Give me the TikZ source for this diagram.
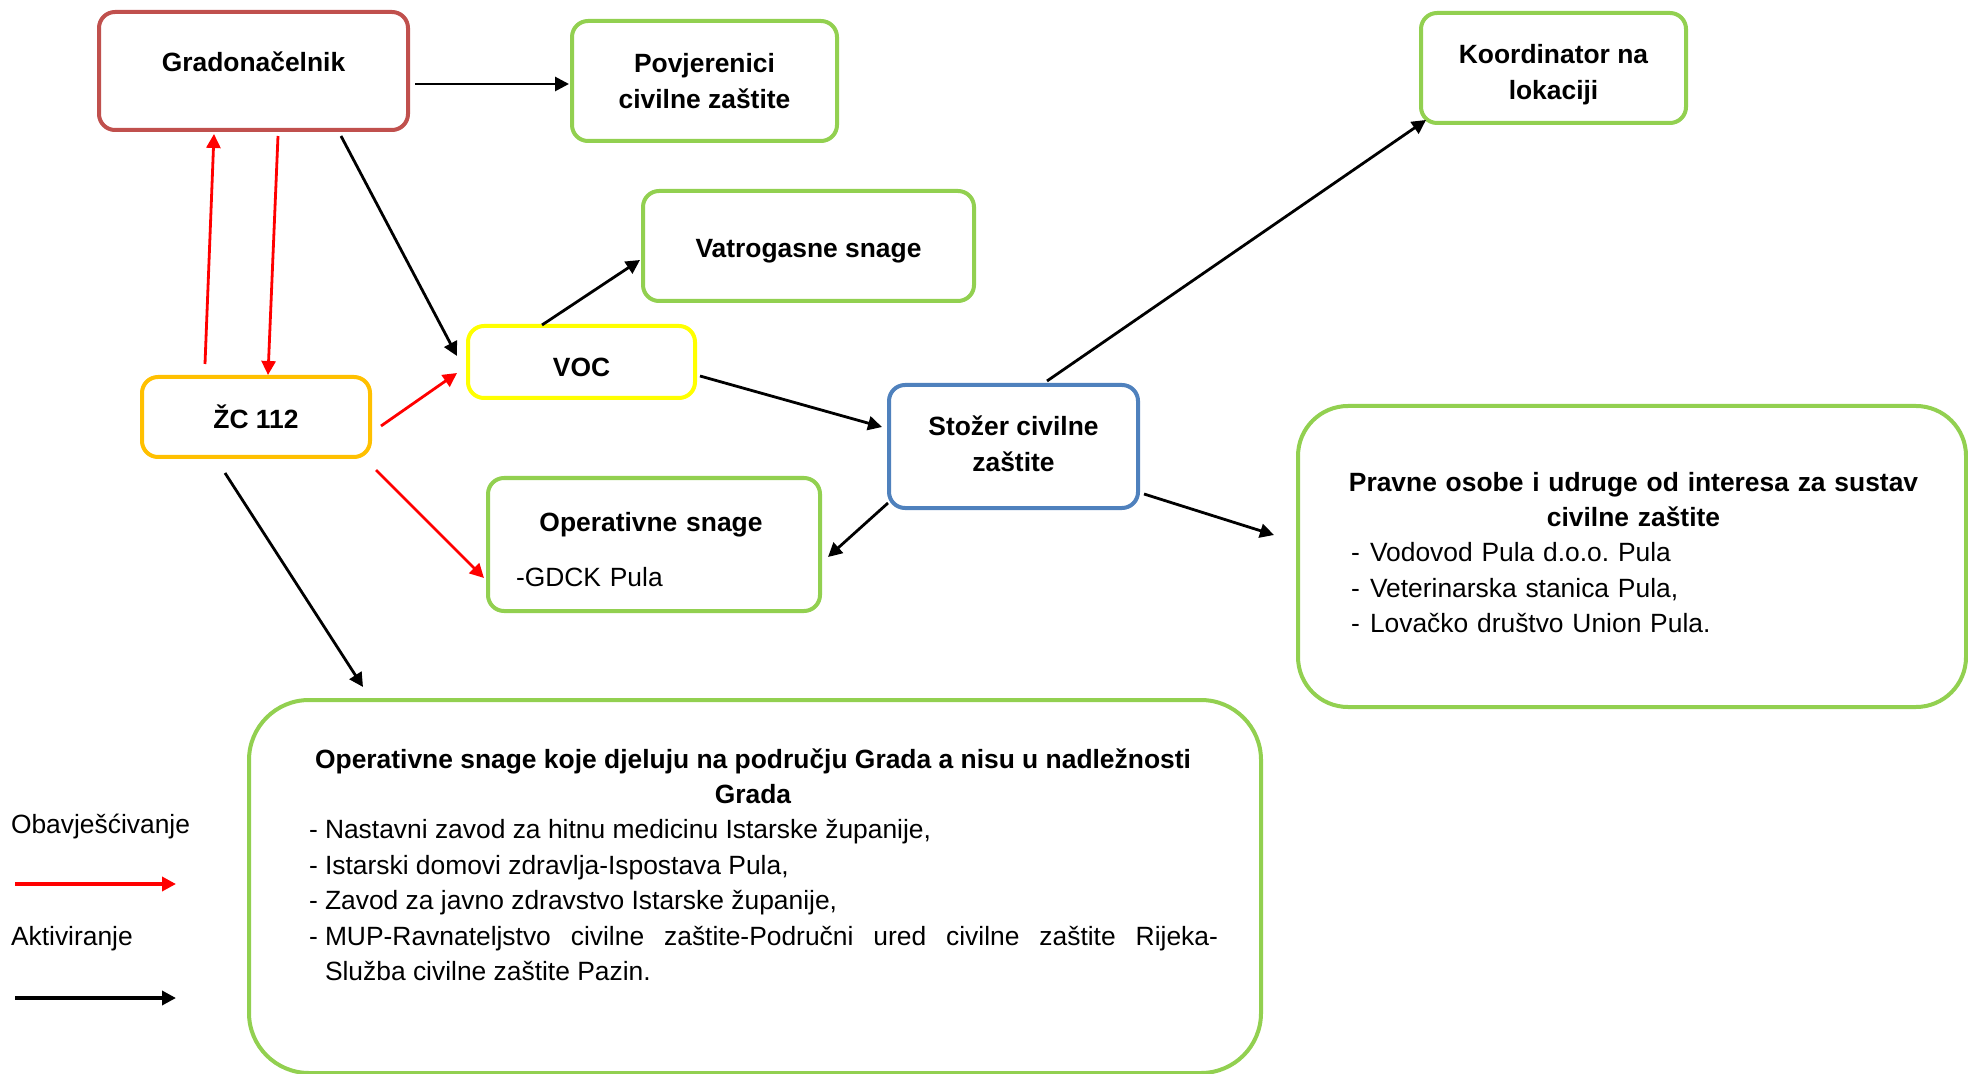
\documentclass[tikz,border=0pt]{standalone}
\usepackage{fontspec}
\setmainfont{Liberation Sans}
\usetikzlibrary{arrows.meta}
\definecolor{gradred}{HTML}{C0504D}
\definecolor{boxgreen}{HTML}{92D050}
\definecolor{vocyellow}{HTML}{FFFF00}
\definecolor{zcorange}{HTML}{FFC000}
\definecolor{stozerblue}{HTML}{4F81BD}

\begin{document}
\begin{tikzpicture}[x=0.5pt,y=-0.5pt,>={Triangle[length=7pt,width=7pt]},
  box/.style={draw,line width=2pt,rounded corners=8pt,align=center,inner sep=0pt,outer sep=0pt,font=\fontsize{13.2}{17.7}\selectfont\bfseries},
  txt/.style={inner sep=0pt,outer sep=0pt,font=\fontsize{13.2}{17.7}\selectfont\frenchspacing},
  act/.style={black,line width=1.4pt,->},
  inf/.style={red,line width=1.4pt,->},
]
\useasboundingbox (0,0) rectangle (1968,1074);
%%
\node (node_grad) at (253.5,71) [box,draw=gradred,minimum width=154.5pt,minimum height=59pt,text height=6pt,text depth=5.4pt] {Gradonačelnik};
  \node (node_povj) at (704.5,81) [box,draw=boxgreen,minimum width=132.5pt,minimum height=60pt] {Povjerenici\\civilne zaštite};
  \node (node_vatro) at (808.5,246) [box,draw=boxgreen,minimum width=165.5pt,minimum height=55pt,text height=14pt,text depth=2.4pt] {Vatrogasne snage};
  \node (node_voc) at (581.5,362) [box,draw=vocyellow,minimum width=113.5pt,minimum height=36pt,text height=15pt,text depth=0.6pt] {VOC};
  \node (node_zc) at (256,417) [box,draw=zcorange,minimum width=114pt,minimum height=40pt] {ŽC 112};
  \node (node_oper) at (654,544.5) [box,draw=boxgreen,minimum width=166pt,minimum height=66.5pt] {};
  \node (node_stozer) at (1013.5,446.5) [box,draw=stozerblue,minimum width=124.5pt,minimum height=61.5pt,text height=25pt,text depth=0.3pt] {Stožer civilne\\zaštite};
  \node (node_koord) at (1553.5,68) [box,draw=boxgreen,minimum width=132.5pt,minimum height=55pt,text height=34pt,text depth=2.6pt] {Koordinator na\\lokaciji};
  \node (node_pravne) at (1632,556.5) [box,draw=boxgreen,rounded corners=25pt,minimum width=334pt,minimum height=150.5pt] {};
  \node (node_ops) at (755,886.5) [box,draw=boxgreen,rounded corners=30pt,minimum width=506pt,minimum height=186.5pt] {};
%
\node (node_oper_txt) at (516,531) [txt,anchor=base west,text width=135pt,align=left] {\parindent=0pt
  {\centering\bfseries Operativne snage\par}\vspace{9.8pt}-GDCK Pula};
  \node (node_pravne_txt) at (1351,491) [txt,anchor=base west,text width=282.5pt,align=left] {\parindent=0pt
  {\bfseries\makebox[\linewidth][c]{Pravne osobe i udruge od interesa za sustav}\par
  \makebox[\linewidth][c]{civilne zaštite}\par}
  \makebox[9.5pt][l]{-}Vodovod Pula d.o.o. Pula\par
  \makebox[9.5pt][l]{-}Veterinarska stanica Pula,\par
  \makebox[9.5pt][l]{-}Lovačko društvo Union Pula.\par};
  \node (node_ops_txt) at (309,768) [txt,anchor=base west,text width=454.5pt,align=justify] {\parindent=0pt
  {\bfseries\makebox[\linewidth][c]{\hspace*{-10.5pt}Operativne snage koje djeluju na području Grada a nisu u nadležnosti}\par
  \makebox[\linewidth][c]{\hspace*{-10.5pt}Grada}\par}
  \makebox[8pt][l]{-}Nastavni zavod za hitnu medicinu Istarske županije,\par
  \makebox[8pt][l]{-}Istarski domovi zdravlja-Ispostava Pula,\par
  \makebox[8pt][l]{-}Zavod za javno zdravstvo Istarske županije,\par
  \hangindent=8pt\hangafter=1\makebox[8pt][l]{-}MUP-Ravnateljstvo civilne zaštite-Područni ured civilne zaštite Rijeka-\linebreak Služba civilne zaštite Pazin.\par};
%
\node (node_obav) at (11,827) [txt,anchor=west] {Obavješćivanje};
  \node (node_aktiv) at (11,939) [txt,anchor=west] {Aktiviranje};
  \coordinate (obav_a) at (15,884);
  \coordinate (obav_b) at (176,884);
  \coordinate (aktiv_a) at (15,998);
  \coordinate (aktiv_b) at (176,998);
  \draw [red,line width=1.8pt,->] (obav_a) -- (obav_b);
  \draw [black,line width=1.8pt,->] (aktiv_a) -- (aktiv_b);
%
\draw [act] ([shift={(7,13)}]node_grad.east) -- ([shift={(-3,3)}]node_povj.west);
  \draw [inf] ([shift={(-51,-13)}]node_zc.north) -- ([shift={(-39.5,4)}]node_grad.south);
  \draw [inf] ([shift={(24.5,6)}]node_grad.south) -- ([shift={(12,-2)}]node_zc.north);
  \draw [act] ([shift={(87.5,6)}]node_grad.south) -- ([shift={(-11,-6)}]node_voc.west);
  \draw [inf] ([shift={(11,9)}]node_zc.east) -- ([shift={(-11,11)}]node_voc.west);
  \draw [inf] ([shift={(6,13)}]node_zc.south east) -- ([shift={(-4,33.5)}]node_oper.west);
  \draw [act] ([shift={(-31,16)}]node_zc.south) -- ([shift={(114,-13)}]node_ops.north west);
  \draw [act] ([shift={(-39.5,-1)}]node_voc.north) -- ([shift={(-3,14)}]node_vatro.west);
  \draw [act] ([shift={(5,14)}]node_voc.east) -- ([shift={(-7,-19.5)}]node_stozer.west);
  \draw [act] ([shift={(-1,-5)}]node_stozer.south west) -- ([shift={(8,12.5)}]node_oper.east);
  \draw [act] ([shift={(33.5,-4)}]node_stozer.north) -- ([shift={(5,-3)}]node_koord.south west);
  \draw [act] ([shift={(6,47.5)}]node_stozer.east) -- ([shift={(-24,-21.5)}]node_pravne.west);
%
\end{tikzpicture}
\end{document}
